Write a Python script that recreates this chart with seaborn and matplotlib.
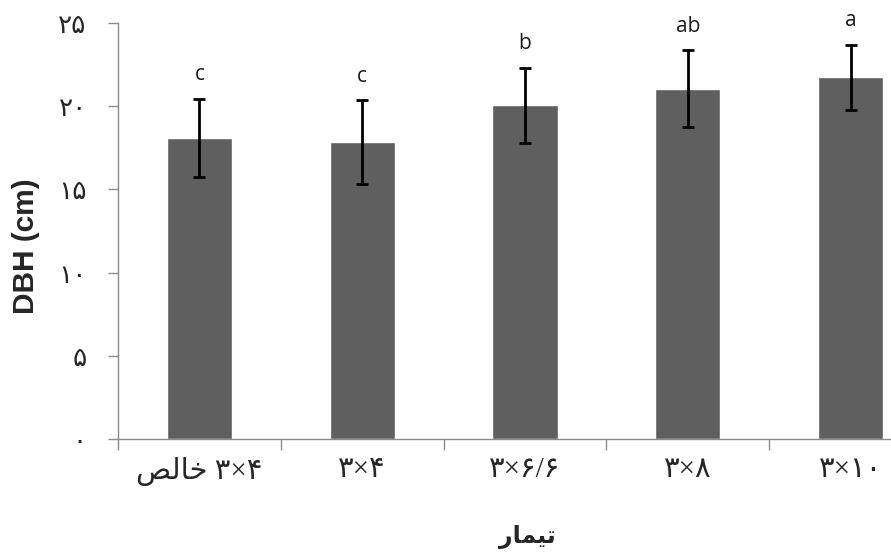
import numpy as np
import pandas as pd
import matplotlib
matplotlib.use("Agg")
import matplotlib.pyplot as plt
import seaborn as sns

# ---- data ----
# Arabic presentation forms in visual (left-to-right) order so matplotlib draws joined Persian text
categories = ["\uFEBA\uFEDF\uFE8E\uFEA7 ۳×۴", "۳×۴", "۳×۶/۶", "۳×۸", "۳×۱۰"]
means = [18.1, 17.85, 20.05, 21.05, 21.75]
errors = [2.35, 2.5, 2.25, 2.3, 1.95]
letters = ["c", "c", "b", "ab", "a"]
yticks = [0, 5, 10, 15, 20, 25]
ytick_labels = ["۰", "۵", "۱۰", "۱۵", "۲۰", "۲۵"]
xlabel = "\uFEAD\uFE8E\uFEE4\uFEF4\uFE97"   # تیمار
ylabel = "DBH (cm)"

sns.set_theme(style="white")
plt.rcParams["font.family"] = ["DejaVu Sans"]

df = pd.DataFrame({"cat": categories, "val": means})

fig = plt.figure(figsize=(8.91, 5.60), dpi=100)
ax = fig.add_axes([118 / 891, 121 / 560, 814 / 891, 416 / 560])

sns.barplot(data=df, x="cat", y="val", color="#5f5f5f", saturation=1,
            width=0.4, errorbar=None, ax=ax, zorder=2)

xs = [p.get_x() + p.get_width() / 2 for p in ax.patches]
ax.errorbar(xs, means, yerr=errors, fmt="none", ecolor="black",
            elinewidth=2, capsize=4.2, capthick=2, zorder=3)
for x, m, e, t in zip(xs, means, errors, letters):
    ax.text(x, m + e + 1.45, t, ha="center", va="center",
            fontsize=15, family=["Open Sans", "DejaVu Sans"], color="#1a1a1a")

ax.set_ylim(0, 25)
ax.set_xlim(-0.5, len(categories) - 0.5)
ax.set_yticks(yticks)
ax.set_yticklabels(ytick_labels, family=["DejaVu Sans"], fontsize=19)

# major ticks at category boundaries, labels on minor ticks at centres
ax.set_xticks(np.arange(-0.5, len(categories), 1.0))
ax.set_xticklabels([])
ax.set_xticks(range(len(categories)), minor=True)
ax.set_xticklabels(categories, minor=True, family=["Liberation Serif", "DejaVu Sans"], fontsize=21)
ax.tick_params(axis="x", which="minor", bottom=True, length=0, pad=13)
ax.tick_params(axis="x", which="major", bottom=True, length=8, width=1, color="#8c8c8c", direction="out")
ax.tick_params(axis="y", left=True, length=7.5, width=1, color="#8c8c8c", direction="out", pad=15)

for s in ["top", "right"]:
    ax.spines[s].set_visible(False)
for s in ["left", "bottom"]:
    ax.spines[s].set_color("#8c8c8c")
    ax.spines[s].set_linewidth(1)

ax.set_xlabel(xlabel, fontsize=17, fontweight="bold", family=["DejaVu Sans"])
ax.set_ylabel(ylabel, fontsize=21.5, fontweight="bold", family=["Liberation Sans", "DejaVu Sans"])
ax.xaxis.set_label_coords((527 - 118) / 814, -(537 - 439) / 416)
ax.yaxis.set_label_coords(-(118 - 26) / 814, (439 - 246) / 416)
ax.xaxis.label.set_va("center")
ax.yaxis.label.set_va("center")

fig.savefig("out.png", dpi=100)
